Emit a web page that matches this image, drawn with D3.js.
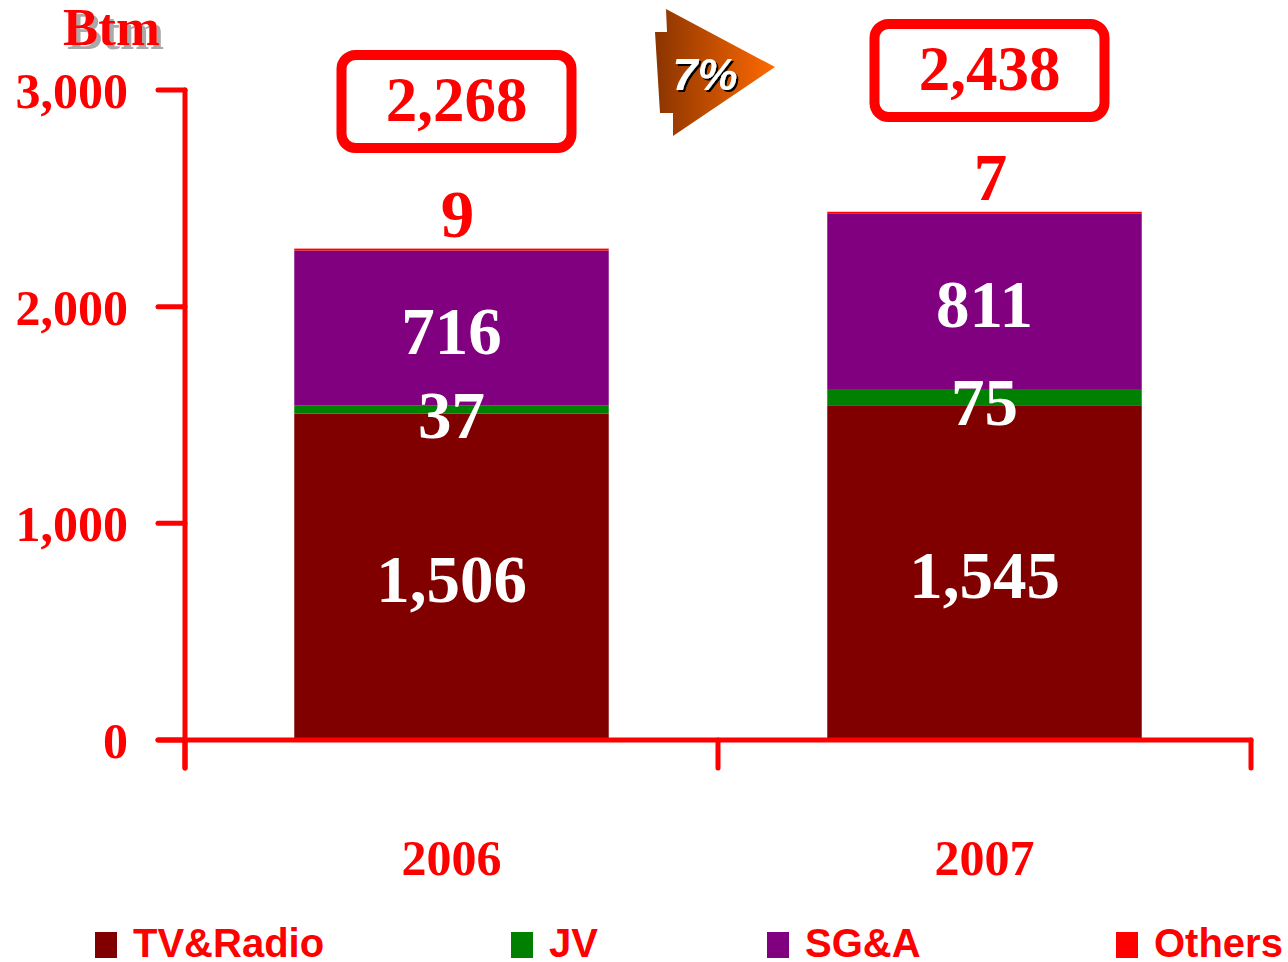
<!DOCTYPE html>
<html>
<head>
<meta charset="utf-8">
<script src="https://cdn.jsdelivr.net/npm/d3@7"></script>
<style>
    body { margin: 0; background: #fff; }
</style>
</head>
<body>
<div id="chart"></div>
<script>
"use strict";

const years = ["2006", "2007"];
const series = ["TV&Radio", "JV", "SG&A", "Others"];
const tvRadio = [1506, 1545];
const jv = [37, 75];
const sga = [716, 811];
const others = [9, 7];
const totals = [2268, 2438];
const yTicks = [0, 1000, 2000, 3000];
const growthLabel = "7%";

const colors = ["#800000", "#008000", "#800080", "#ff0000"];
const red = "#ff0000";
const serif = "'Liberation Serif', 'Times New Roman', serif";
const sans = "'Liberation Sans', Arial, sans-serif";

const width = 1288, height = 962;
const rows = years.map((y, i) => ({
    year: y,
    "TV&Radio": tvRadio[i],
    "JV": jv[i],
    "SG&A": sga[i],
    "Others": others[i],
    total: totals[i]
}));

const svg = d3.select("#chart").append("svg")
              .attr("width", width)
              .attr("height", height);

const defs = svg.append("defs");
const shadowGray = defs.append("filter").attr("id", "shadowGray")
                       .attr("x", "-10%").attr("y", "-10%")
                       .attr("width", "130%").attr("height", "140%");
shadowGray.append("feDropShadow")
          .attr("dx", 4).attr("dy", 4).attr("stdDeviation", 0.6)
          .attr("flood-color", "#a0a0a0").attr("flood-opacity", 0.9);
const shadowBlack = defs.append("filter").attr("id", "shadowBlack")
                        .attr("x", "-10%").attr("y", "-10%")
                        .attr("width", "130%").attr("height", "140%");
shadowBlack.append("feDropShadow")
           .attr("dx", 2).attr("dy", 2).attr("stdDeviation", 0.3)
           .attr("flood-color", "#000").attr("flood-opacity", 1);

const xScale = d3.scaleBand()
                 .domain(years)
                 .range([185, 1251])
                 .paddingInner(0.41)
                 .paddingOuter(0.205);
const yScale = d3.scaleLinear()
                 .domain([0, 3000])
                 .range([740, 90]);
const colorScale = d3.scaleOrdinal(series, colors);

const stacked = d3.stack().keys(series)(rows);

// bars
svg.append("g")
   .selectAll("g")
   .data(stacked)
   .join("g")
   .attr("fill", d => colorScale(d.key))
   .selectAll("rect")
   .data(d => d)
   .join("rect")
   .attr("x", d => xScale(d.data.year))
   .attr("width", xScale.bandwidth())
   .attr("y", d => yScale(d[1]))
   .attr("height", d => yScale(d[0]) - yScale(d[1]));

// axes
const axis = svg.append("g")
                .attr("stroke", red)
                .attr("stroke-width", 5)
                .attr("stroke-linecap", "round");
axis.append("line")
    .attr("x1", 185).attr("x2", 185)
    .attr("y1", yScale(3000)).attr("y2", 768);
axis.append("line")
    .attr("x1", 158).attr("x2", 1251)
    .attr("y1", yScale(0)).attr("y2", yScale(0));
axis.selectAll("line.ytick")
    .data(yTicks)
    .join("line")
    .attr("class", "ytick")
    .attr("x1", 158).attr("x2", 185)
    .attr("y1", d => yScale(d)).attr("y2", d => yScale(d));
const catEdges = [185, 718, 1251];
axis.selectAll("line.xtick")
    .data(catEdges)
    .join("line")
    .attr("class", "xtick")
    .attr("x1", d => d).attr("x2", d => d)
    .attr("y1", yScale(0)).attr("y2", 768);

svg.append("g")
   .selectAll("text")
   .data(yTicks)
   .join("text")
   .attr("x", 128)
   .attr("y", d => yScale(d) + 18)
   .attr("text-anchor", "end")
   .attr("font-family", serif)
   .attr("font-weight", "bold")
   .attr("font-size", 50)
   .attr("fill", red)
   .text(d => d3.format(",")(d));

svg.append("g")
   .selectAll("text")
   .data(years)
   .join("text")
   .attr("x", d => xScale(d) + xScale.bandwidth() / 2)
   .attr("y", 875)
   .attr("text-anchor", "middle")
   .attr("font-family", serif)
   .attr("font-weight", "bold")
   .attr("font-size", 50)
   .attr("fill", red)
   .text(d => d);

// unit label
svg.append("text")
   .attr("x", 63).attr("y", 45)
   .attr("font-family", serif)
   .attr("font-weight", "bold")
   .attr("font-size", 53)
   .attr("fill", red)
   .attr("filter", "url(#shadowGray)")
   .text("Btm");

// segment labels
const labels = svg.append("g")
                  .attr("font-family", serif)
                  .attr("font-weight", "bold")
                  .attr("font-size", 67)
                  .attr("text-anchor", "middle");
rows.forEach(r => {
    const cx = xScale(r.year) + xScale.bandwidth() / 2;
    labels.append("text")
          .attr("x", cx)
          .attr("y", yScale(r["TV&Radio"] / 2) + 25)
          .attr("fill", "#fff")
          .text(d3.format(",")(r["TV&Radio"]));
    labels.append("text")
          .attr("x", cx)
          .attr("y", yScale(r["TV&Radio"] + r.JV / 2) + 28)
          .attr("fill", "#fff")
          .text(r.JV);
    labels.append("text")
          .attr("x", cx)
          .attr("y", yScale(r["TV&Radio"] + r.JV + r["SG&A"] / 2) + 26)
          .attr("fill", "#fff")
          .text(r["SG&A"]);
    labels.append("text")
          .attr("x", cx + 6)
          .attr("y", yScale(r.total) - 12)
          .attr("fill", red)
          .text(r.Others);
});

// total boxes
const boxTop = [50, 19];
rows.forEach((r, i) => {
    const cx = xScale(r.year) + xScale.bandwidth() / 2 + 5;
    const g = svg.append("g");
    g.append("rect")
     .attr("x", cx - 115).attr("y", boxTop[i] + 5)
     .attr("width", 230).attr("height", 93)
     .attr("rx", 14)
     .attr("fill", "#fff")
     .attr("stroke", red)
     .attr("stroke-width", 10);
    g.append("text")
     .attr("x", cx)
     .attr("y", boxTop[i] + 71)
     .attr("text-anchor", "middle")
     .attr("font-family", serif)
     .attr("font-weight", "bold")
     .attr("font-size", 63)
     .attr("fill", red)
     .text(d3.format(",")(r.total));
});

// growth arrow
const grad = defs.append("linearGradient")
                 .attr("id", "arrowGrad")
                 .attr("x1", "0%").attr("x2", "100%")
                 .attr("y1", "0%").attr("y2", "0%");
grad.append("stop").attr("offset", "0%").attr("stop-color", "#8a3400");
grad.append("stop").attr("offset", "100%").attr("stop-color", "#ff6a00");
svg.append("polygon")
   .attr("points", "666,9 667,32 655,32 660,113 673,113 673,136 775,67")
   .attr("fill", "url(#arrowGrad)");
svg.append("text")
   .attr("x", 705).attr("y", 90)
   .attr("text-anchor", "middle")
   .attr("font-family", sans)
   .attr("font-weight", "bold")
   .attr("font-style", "italic")
   .attr("font-size", 45)
   .attr("fill", "#fff")
   .attr("filter", "url(#shadowBlack)")
   .text(growthLabel);

// legend
const legendX = [95, 511, 767, 1116];
const legend = svg.append("g")
                  .selectAll("g")
                  .data(series)
                  .join("g")
                  .attr("transform", (d, i) => `translate(${legendX[i]}, 932)`);
legend.append("rect")
      .attr("width", 22).attr("height", 26)
      .attr("fill", d => colorScale(d));
legend.append("text")
      .attr("x", 38).attr("y", 25)
      .attr("font-family", sans)
      .attr("font-weight", "bold")
      .attr("font-size", 40)
      .attr("fill", red)
      .text(d => d);
</script>
</body>
</html>
